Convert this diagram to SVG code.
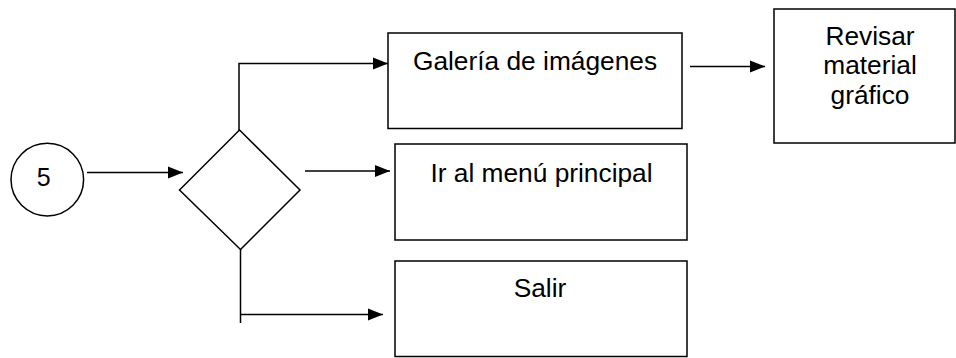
<svg xmlns="http://www.w3.org/2000/svg" width="956" height="358" viewBox="0 0 956 358">
<style>
.shape{fill:#fff;stroke:#000;stroke-width:1.5}
.conn{fill:none;stroke:#000;stroke-width:1.5}
.lbl{font-family:"Liberation Sans",Arial,sans-serif;font-size:26.3px;fill:#000;text-anchor:middle}
</style>
<defs>
<marker id="ah" markerUnits="userSpaceOnUse" markerWidth="16" markerHeight="13" refX="15" refY="6.5" orient="auto">
<path d="M0,0.5 L15,6.5 L0,12.5 Z" fill="#000"/>
</marker>
</defs>
<g id="connectors">
<path class="conn" d="M87,172.5 H183" marker-end="url(#ah)"/>
<path class="conn" d="M239,136 V63.5 H388" marker-end="url(#ah)"/>
<path class="conn" d="M305,171 H390" marker-end="url(#ah)"/>
<path class="conn" d="M240.5,227 V323"/>
<path class="conn" d="M240.5,314.5 H383" marker-end="url(#ah)"/>
<path class="conn" d="M690,66.5 H765" marker-end="url(#ah)"/>
</g>
<g id="start">
<circle class="shape" cx="47.3" cy="179.6" r="36.3"/>
<text class="lbl" x="43.7" y="186" style="font-size:25px">5</text>
</g>
<g id="decision">
<polygon class="shape" points="179.5,190 239.5,130 300,190 240.5,249.5"/>
</g>
<g id="galeria">
<rect class="shape" x="388" y="33" width="294" height="95.5"/>
<text class="lbl" x="535" y="70">Galería de imágenes</text>
</g>
<g id="revisar">
<rect class="shape" x="774" y="9" width="181" height="134"/>
<text class="lbl" x="870" y="44.5">Revisar</text>
<text class="lbl" x="870" y="74">material</text>
<text class="lbl" x="870" y="103.5">gráfico</text>
</g>
<g id="menu">
<rect class="shape" x="395" y="144" width="292" height="96"/>
<text class="lbl" x="541.5" y="181.5">Ir al menú principal</text>
</g>
<g id="salir">
<rect class="shape" x="395" y="261" width="292" height="95.5"/>
<text class="lbl" x="540" y="296.5">Salir</text>
</g>
</svg>
